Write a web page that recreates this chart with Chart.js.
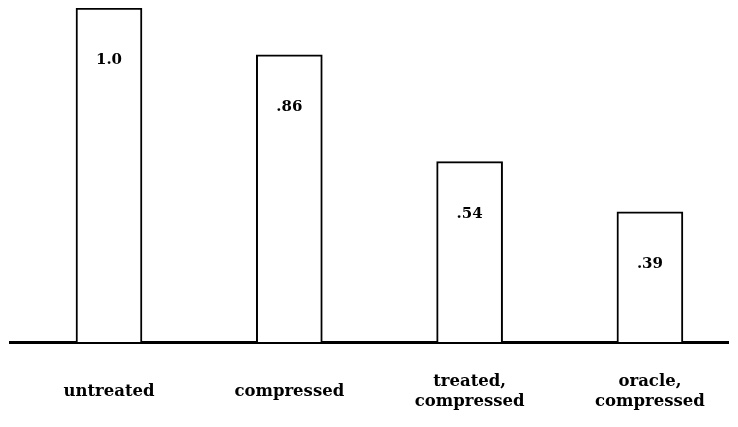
<!DOCTYPE html>
<html>
<head>
<meta charset="utf-8">
<script src="https://cdn.jsdelivr.net/npm/chart.js@4/dist/chart.umd.min.js"></script>
<style>
  html, body { margin: 0; padding: 0; background: #fff; }
  #wrap { width: 738px; height: 427px; }
</style>
</head>
<body>
<div id="wrap"><canvas id="grafico"></canvas></div>
<script>
// datos
const categorias = [
  "untreated",
  "compressed",
  ["treated,", "compressed"],
  ["oracle,", "compressed"]
];
const valores = [1.0, 0.86, 0.54, 0.39];
const etiquetasValor = ["1.0", ".86", ".54", ".39"];

const fuente = '"DejaVu Serif", "Liberation Serif", serif';

// etiquetas dentro de cada barra
const etiquetasBarras = {
  id: "etiquetasBarras",
  afterDatasetsDraw(chart) {
    const ctx = chart.ctx;
    const meta = chart.getDatasetMeta(0);
    ctx.save();
    ctx.fillStyle = "#000";
    ctx.font = "bold 15px " + fuente;
    ctx.textAlign = "center";
    ctx.textBaseline = "middle";
    meta.data.forEach((bar, i) => {
      ctx.fillText(etiquetasValor[i], bar.x, bar.y + 52);
    });
    ctx.restore();
  }
};

const ctx = document.getElementById("grafico").getContext("2d");
const grafico = new Chart(ctx, {
  type: "bar",
  data: {
    datasets: [{
      data: valores.map((v, i) => ({ x: i, y: v })),
      backgroundColor: "#fff",
      borderColor: "#000",
      borderWidth: 2,
      barThickness: 66
    }]
  },
  options: {
    responsive: true,
    maintainAspectRatio: false,
    animation: false,
    layout: { padding: { top: 8, bottom: 0, left: 10, right: 10 } },
    plugins: {
      legend: { display: false },
      tooltip: { enabled: false }
    },
    scales: {
      x: {
        type: "linear",
        offset: false,
        min: -0.549,
        max: 3.433,
        afterFit: (scale) => {
          scale.paddingLeft = 0;
          scale.paddingRight = 0;
          scale.height = 85;
        },
        afterBuildTicks: (scale) => {
          scale.ticks = categorias.map((c, i) => ({ value: i }));
        },
        grid: { display: false, drawTicks: false },
        border: { display: true, color: "#000", width: 3 },
        ticks: {
          autoSkip: false,
          maxRotation: 0,
          padding: 40,
          crossAlign: "center",
          color: "#000",
          font: { family: fuente, size: 16.5, weight: "bold", lineHeight: 1.2 },
          callback: (v) => categorias[v]
        }
      },
      y: {
        display: false,
        min: 0,
        max: 1.0
      }
    }
  },
  plugins: [etiquetasBarras]
});
</script>
</body>
</html>
